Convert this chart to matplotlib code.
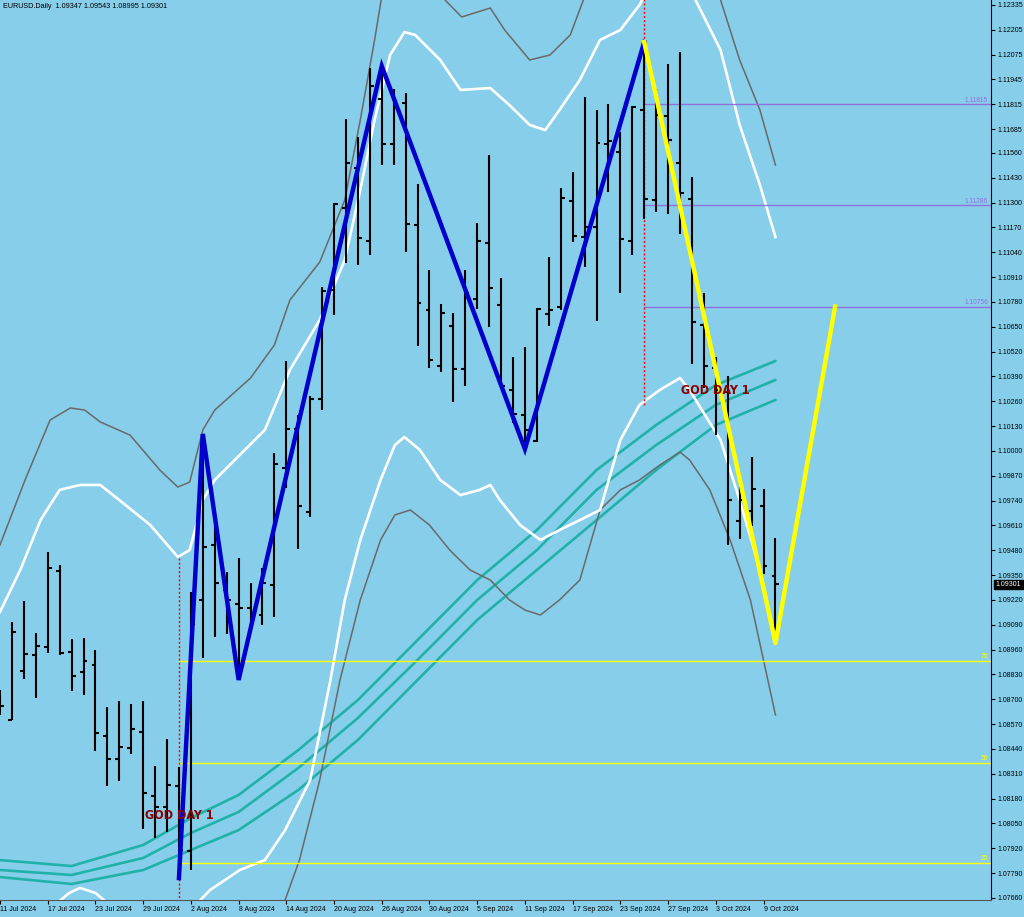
import numpy as np
import matplotlib
matplotlib.use("Agg")
import matplotlib.pyplot as plt

# ---------------- data ----------------
opens = [1.08696, 1.08591, 1.08848, 1.08932, 1.08974, 1.09371, 1.08947, 1.08843, 1.08879, 1.08508,
         1.08387, 1.08445, 1.08529, 1.08194, 1.08136, 1.08246, 1.07905, 1.09220, 1.09508, 1.09272,
         1.09199, 1.09178, 1.09141, 1.09298, 1.09911, 1.10115, 1.09680, 1.10272, 1.10843, 1.11272,
         1.11481, 1.11099, 1.11843, 1.11607, 1.11822, 1.11183, 1.10738, 1.10445, 1.10654, 1.10429,
         1.10796, 1.11089, 1.10764, 1.10319, 1.10188, 1.10052, 1.10717, 1.10754, 1.11309, 1.11120,
         1.11172, 1.11607, 1.11565, 1.11099, 1.11785, 1.11314, 1.11754, 1.11508, 1.11319, 1.10659,
         1.10434, 1.10309, 1.09633, 1.09686, 1.09712, 1.09347]
highs = [1.08748, 1.09104, 1.09214, 1.09047, 1.09471, 1.09403, 1.09015, 1.09021, 1.08958, 1.08659,
         1.08691, 1.08675, 1.08691, 1.08351, 1.08492, 1.08345, 1.09262, 1.10089, 1.09633, 1.09366,
         1.09440, 1.09309, 1.09387, 1.09989, 1.10471, 1.10188, 1.10288, 1.10858, 1.11298, 1.11738,
         1.11644, 1.12005, 1.12015, 1.11895, 1.11875, 1.11398, 1.10947, 1.10769, 1.10722, 1.10947,
         1.11193, 1.11550, 1.10906, 1.10492, 1.10544, 1.10748, 1.11015, 1.11377, 1.11461, 1.11853,
         1.11785, 1.11817, 1.11670, 1.11806, 1.12141, 1.11895, 1.12026, 1.12089, 1.11434, 1.10827,
         1.10492, 1.10392, 1.09864, 1.09968, 1.09801, 1.09543]
lows = [1.08618, 1.08591, 1.08806, 1.08707, 1.08942, 1.08932, 1.08743, 1.08722, 1.08429, 1.08246,
        1.08272, 1.08413, 1.08021, 1.07974, 1.08005, 1.07764, 1.07806, 1.08916, 1.09026, 1.09042,
        1.08801, 1.09073, 1.09089, 1.09131, 1.09806, 1.09487, 1.09654, 1.10214, 1.10712, 1.10984,
        1.10974, 1.11026, 1.11497, 1.11497, 1.11042, 1.10550, 1.10434, 1.10413, 1.10256, 1.10340,
        1.10743, 1.10649, 1.10335, 1.10146, 1.10010, 1.10047, 1.10654, 1.10738, 1.11094, 1.10963,
        1.10680, 1.11356, 1.10827, 1.11026, 1.11214, 1.11251, 1.11241, 1.11136, 1.10455, 1.10330,
        1.10083, 1.09508, 1.09539, 1.09607, 1.09356, 1.08995]
closes = [1.08665, 1.09052, 1.08937, 1.08979, 1.09387, 1.08942, 1.08822, 1.08900, 1.08523, 1.08387,
          1.08450, 1.08544, 1.08209, 1.08136, 1.08251, 1.07911, 1.09094, 1.09497, 1.09309, 1.09220,
          1.09178, 1.09146, 1.09309, 1.09932, 1.10115, 1.09712, 1.10272, 1.10837, 1.11293, 1.11508,
          1.11115, 1.11911, 1.11607, 1.11811, 1.11188, 1.10775, 1.10476, 1.10722, 1.10429, 1.10827,
          1.11099, 1.10853, 1.10340, 1.10193, 1.10110, 1.10743, 1.10738, 1.11324, 1.11125, 1.11172,
          1.11612, 1.11623, 1.11110, 1.11801, 1.11319, 1.11759, 1.11628, 1.11351, 1.10675, 1.10445,
          1.10319, 1.09743, 1.09743, 1.09801, 1.09398, 1.09301]

date_tick_idx = [0, 4, 8, 12, 16, 20, 24, 28, 32, 36, 40, 44, 48, 52, 56, 60, 64]
date_tick_labels = ["11 Jul 2024", "17 Jul 2024", "23 Jul 2024", "29 Jul 2024", "2 Aug 2024",
                    "8 Aug 2024", "14 Aug 2024", "20 Aug 2024", "26 Aug 2024", "30 Aug 2024",
                    "5 Sep 2024", "11 Sep 2024", "17 Sep 2024", "23 Sep 2024", "27 Sep 2024",
                    "3 Oct 2024", "9 Oct 2024"]

price_ticks = [1.12335, 1.12205, 1.12075, 1.11945, 1.11815, 1.11685, 1.11560, 1.11430, 1.11300,
               1.11170, 1.11040, 1.10910, 1.10780, 1.10650, 1.10520, 1.10390, 1.10260, 1.10130,
               1.10000, 1.09870, 1.09740, 1.09610, 1.09480, 1.09350, 1.09220, 1.09090, 1.08960,
               1.08830, 1.08700, 1.08570, 1.08440, 1.08310, 1.08180, 1.08050, 1.07920, 1.07790,
               1.07660]

# Bollinger-type envelopes (bar index, price)
gu_idx = [0, 2.1, 4.2, 5.9, 7.1, 8.4, 10.9, 13.4, 14.9, 15.9, 17, 18, 21, 23, 24.3, 26.8, 28.9,
          30.2, 31.4, 32.5, 34, 36, 37.3, 38.7, 41.1, 42.3, 44.4, 46.1, 47.8, 48.9, 51, 54, 57,
          60.4, 62, 63.7, 65]
gu_val = [1.09508, 1.09848, 1.10162, 1.10225, 1.10214, 1.10152, 1.10083, 1.09900, 1.09811, 1.09837,
          1.10110, 1.10214, 1.10382, 1.10555, 1.10790, 1.10989, 1.11314, 1.11733, 1.12152, 1.12570,
          1.12885, 1.12675, 1.12361, 1.12272, 1.12319, 1.12204, 1.12047, 1.12073, 1.12178, 1.12361,
          1.12675, 1.12989, 1.12780, 1.12361, 1.12047, 1.11785, 1.11497]
wu_idx = [0, 1.7, 3.4, 5, 6.7, 8.4, 10, 12.6, 14.9, 15.9, 17, 18, 20.1, 22.2, 24.3, 26.8, 28.9,
          30.2, 31.4, 32.7, 33.9, 34.8, 36.9, 38.6, 41.1, 42.7, 44.4, 45.7, 46.9, 48.6, 50.3, 52,
          53.6, 55, 57, 58.3, 60.4, 62, 63.7, 65]
wu_val = [1.09157, 1.09377, 1.09638, 1.09796, 1.09822, 1.09822, 1.09743, 1.09612, 1.09445, 1.09481,
          1.09743, 1.09848, 1.09979, 1.10110, 1.10424, 1.10686, 1.11000, 1.11366, 1.11733, 1.12073,
          1.12193, 1.12178, 1.12047, 1.11890, 1.11900, 1.11811, 1.11707, 1.11680, 1.11785, 1.11942,
          1.12152, 1.12204, 1.12335, 1.12492, 1.12518, 1.12361, 1.12099, 1.11707, 1.11392, 1.11120]
wl_idx = [0, 4.6, 5.8, 6.7, 8.0, 9.2, 12.5, 15, 16.8, 17.6, 20.1, 22.2, 23.9, 26, 27.7, 28.9,
          30.2, 31.9, 33.1, 33.9, 35.2, 36.9, 38.6, 40.2, 41.1, 41.9, 43.6, 45.3, 46.9, 48.6, 50.3,
          52, 53.6, 55.3, 57, 57.8, 60.4, 62, 63.7, 65]
wl_val = [1.07335, 1.07623, 1.07686, 1.07712, 1.07686, 1.07623, 1.07335, 1.07230, 1.07649, 1.07701,
          1.07806, 1.07858, 1.08015, 1.08277, 1.08801, 1.09220, 1.09534, 1.09848, 1.10031, 1.10073,
          1.10005, 1.09848, 1.09769, 1.09796, 1.09822, 1.09743, 1.09612, 1.09534, 1.09586, 1.09638,
          1.09691, 1.10057, 1.10241, 1.10319, 1.10382, 1.10319, 1.10057, 1.09743, 1.09377, 1.09010]
gl_idx = [20, 22, 23.9, 25.1, 26.8, 28.5, 30.2, 31.9, 33.1, 34.4, 36, 37.7, 39.4, 41.1, 42.7, 44,
          45.3, 46.9, 48.6, 50.3, 52, 53.6, 55.3, 57, 57.8, 59.5, 61.2, 62.9, 65]
gl_val = [1.07073, 1.07335, 1.07649, 1.07858, 1.08277, 1.08801, 1.09220, 1.09534, 1.09665, 1.09691,
          1.09612, 1.09481, 1.09377, 1.09324, 1.09220, 1.09167, 1.09141, 1.09220, 1.09324, 1.09691,
          1.09796, 1.09848, 1.09926, 1.09994, 1.09953, 1.09796, 1.09534, 1.09220, 1.08618]

# three moving averages
ma_idx = [0, 6, 12, 16, 20, 25, 30, 35, 40, 45, 50, 55, 60, 65]
ma1 = [1.07858, 1.07827, 1.07937, 1.08078, 1.08199, 1.08434, 1.08696, 1.09010, 1.09324, 1.09586,
       1.09900, 1.10136, 1.10345, 1.10471]
ma2 = [1.07806, 1.07780, 1.07869, 1.08000, 1.08110, 1.08340, 1.08602, 1.08906, 1.09220, 1.09481,
       1.09796, 1.10031, 1.10241, 1.10372]
ma3 = [1.07769, 1.07733, 1.07806, 1.07911, 1.08015, 1.08225, 1.08487, 1.08801, 1.09115, 1.09377,
       1.09638, 1.09900, 1.10136, 1.10267]

zz_blue_idx = [15, 17, 20, 32, 44, 54]
zz_blue_val = [1.07764, 1.10089, 1.08801, 1.12015, 1.10010, 1.12141]
zz_yellow_idx = [54, 65, 70]
zz_yellow_val = [1.12141, 1.08995, 1.10756]

purple_levels = [1.11815, 1.11286, 1.10756]
purple_start = 54
yellow_levels = [1.08900, 1.08366, 1.07843]
yellow_labels = ["75", "50", "25"]
yellow_start = 15

god_day_idx = [15, 60]
god_day_price = [1.08094, 1.10314]
red_line_idx = [15, 54]
red_line_from = [1.09440, 1.10240]
red_line_to = [1.07600, 1.12400]

header = "EURUSD.Daily  1.09347 1.09543 1.08995 1.09301"
last_price = 1.09301

# ---------------- figure ----------------
BG = "#87CEEB"
W, H = 1024, 917
SMALL = ["Liberation Sans", "DejaVu Sans"]
fig = plt.figure(figsize=(W / 100, H / 100), dpi=100, facecolor=BG)
ax = fig.add_axes([0, 17 / H, 991 / W, 900 / H], facecolor=BG)
ymin, ymax = 1.07649, 1.12361
xr = 991 / 11.93
ax.set_xlim(0, xr)
ax.set_ylim(ymin, ymax)

# MAs
for m in (ma1, ma2, ma3):
    ax.plot(ma_idx, m, color="#20B2AA", lw=1.9, zorder=2, solid_capstyle="round")

# bands
ax.plot(gu_idx, gu_val, color="#696969", lw=1.1, zorder=2)
ax.plot(gl_idx, gl_val, color="#696969", lw=1.1, zorder=2)
ax.plot(wu_idx, wu_val, color="white", lw=1.9, zorder=2)
ax.plot(wl_idx, wl_val, color="white", lw=1.9, zorder=2)

# horizontal levels
for lv in purple_levels:
    ax.plot([purple_start, xr], [lv, lv], color="#9370DB", lw=1.0, zorder=3)
    ax.text(xr - 0.25, lv + 0.00003, f"{lv:.5f}", color="#9370DB", fontsize=4.8,
            family=SMALL, ha="right", va="bottom", zorder=6)
for lv, lb in zip(yellow_levels, yellow_labels):
    ax.plot([yellow_start, xr], [lv, lv], color="#FFFF00", lw=1.0, zorder=3)
    ax.text(xr - 0.25, lv + 0.00003, lb, color="#FFFF00", fontsize=4.8,
            family=SMALL, ha="right", va="bottom", zorder=6)

# red dotted vertical lines
for xi, a, b in zip(red_line_idx, red_line_from, red_line_to):
    ax.plot([xi, xi], [a, b], color="#FF0000", lw=1.0, ls=(0, (1.5, 1.5)), zorder=3)

# OHLC bars
idx = np.arange(len(opens))
tk = 0.33
ax.vlines(idx, lows, highs, color="black", lw=1.5, zorder=4)
ax.hlines(opens, idx - tk, idx, color="black", lw=1.5, zorder=4)
ax.hlines(closes, idx, idx + tk, color="black", lw=1.5, zorder=4)

# zigzags
ax.plot(zz_blue_idx, zz_blue_val, color="#0000CD", lw=3.2, zorder=5, solid_joinstyle="miter")
ax.plot(zz_yellow_idx, zz_yellow_val, color="#FFFF00", lw=3.2, zorder=5)

# labels
for xi, pv in zip(god_day_idx, god_day_price):
    ax.text(xi, pv, "GOD DAY 1", color="#8B0000", fontsize=9.0, fontweight="bold",
            family="DejaVu Sans", fontstretch="condensed", ha="center", va="center", zorder=7)

ax.text(0.003, 0.997, header, transform=ax.transAxes, fontsize=5.2, family=SMALL,
        color="black", ha="left", va="top", zorder=8)

# axes styling
for s in ("left", "top"):
    ax.spines[s].set_visible(False)
ax.spines["right"].set_color("black")
ax.spines["bottom"].set_color("#555555")
ax.yaxis.tick_right()
ax.set_yticks(price_ticks)
ax.set_yticklabels([f"{p:.5f}" for p in price_ticks], family=SMALL)
ax.tick_params(axis="y", direction="out", length=3, width=0.8, labelsize=5.0, pad=2,
               colors="black")
ax.set_xticks(date_tick_idx)
ax.set_xticklabels(date_tick_labels, ha="left", family=SMALL)
ax.tick_params(axis="x", direction="out", length=3, width=0.8, labelsize=5.0, pad=1.5,
               colors="black")

# current price box
ax.annotate(f"{last_price:.5f}", xy=(1.0, last_price), xycoords=("axes fraction", "data"),
            xytext=(3.5, 0), textcoords="offset points", fontsize=5.0, family=SMALL,
            color="white", ha="left", va="center", annotation_clip=False,
            bbox=dict(boxstyle="square,pad=0.2", fc="black", ec="black"), zorder=9)

fig.savefig("out.png", dpi=100, facecolor=BG)
